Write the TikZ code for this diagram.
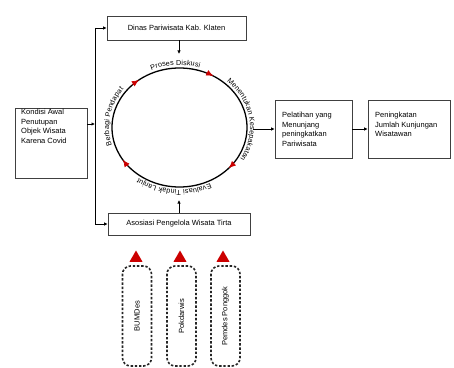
\documentclass[tikz,border=0pt]{standalone}
\usepackage{fontspec}
\setmainfont{Liberation Sans}
\usetikzlibrary{arrows.meta,decorations.text,shapes.geometric}
\begin{document}
\begin{tikzpicture}[x=1pt,y=1pt,
	box/.style={draw=black!75,line width=0.8pt,inner sep=0pt},
	txt/.style={font=\fontsize{7.5}{9.5}\selectfont,align=left,inner sep=0pt},
	arr/.style={line width=0.7pt,-{Latex[length=3.5pt,width=3.5pt]}},
	dbox/.style={draw=black!85,line width=1.6pt,dash pattern=on 2.4pt off 1.8pt,rounded corners=8pt,rotate=90,minimum width=100,minimum height=29,font=\fontsize{7.5}{9}\selectfont},
	tri/.style={regular polygon,regular polygon sides=3,fill=red!80!black,inner sep=0pt,minimum size=15},
	ring/.style={decorate,decoration={text along path,text align=center,raise=2.5pt}}]
	\useasboundingbox (0,0) rectangle (454,367);
	\node[box,minimum width=72,minimum height=70] (awal) at (51,224) {};
	\node[txt,anchor=north west] (awaltxt) at (21,258) {Kondisi Awal\\Penutupan\\Objek Wisata\\Karena Covid};
	\node[box,minimum width=139,minimum height=24,txt] (dinas) at (176.5,339) {Dinas Pariwisata Kab. Klaten};
	\node[box,minimum width=142,minimum height=22,txt] (asosiasi) at (179,143) {Asosiasi Pengelola Wisata Tirta};
	\node[box,minimum width=77,minimum height=58] (pelatihan) at (313.5,238) {};
	\node[txt,anchor=north west] (pelatihantxt) at (282,255) {Pelatihan yang\\Menunjang\\peningkatkan\\Pariwisata};
	\node[box,minimum width=82,minimum height=58] (kunjungan) at (409,238) {};
	\node[txt,anchor=north west] (kunjungantxt) at (375,255) {Peningkatan\\Jumlah Kunjungan\\Wisatawan};
	\coordinate (c) at (179.5,239.5);
	\coordinate (atas) at (95,339);
	\coordinate (bawah) at (95,143);
	\coordinate (cabang) at (95,243);
	\coordinate (masuk) at (179,313);
	\coordinate (naik) at (179,167);
	\coordinate (keluar) at (253,238);
	\draw[line width=0.7pt] (atas) -- (bawah);
	\draw[arr] (awal.east |- cabang) -- (cabang);
	\draw[arr] (atas) -- (dinas.west);
	\draw[arr] (bawah) -- (asosiasi.west);
	\draw[arr] (dinas.south -| masuk) -- (masuk);
	\draw[arr] (asosiasi.north -| naik) -- (naik);
	\draw[arr] (keluar) -- (pelatihan.west);
	\draw[arr] (pelatihan.east) -- (kunjungan.west);
	\draw[line width=1.3pt] (c) ellipse [x radius=67.5,y radius=59.5];
	\foreach \a in {127,60,-43,-147}
		\draw[red!80!black,line width=0.6pt,-{Latex[length=7pt,width=6pt]}] ([shift={(\a+7:67.5 and 59.5)}]c) arc[start angle=\a+7,end angle=\a,x radius=67.5,y radius=59.5];
	\path[ring,decoration={text={|\fontsize{7.2}{8}\selectfont|Proses Diskusi}}] ([shift={(127:68 and 60)}]c) arc[start angle=127,end angle=60,x radius=68,y radius=60];
	\path[ring,decoration={text={|\fontsize{7.2}{8}\selectfont|Menentukan Kesepakatan}}] ([shift={(60:68 and 60)}]c) arc[start angle=60,end angle=-43,x radius=68,y radius=60];
	\path[ring,decoration={text={|\fontsize{7.2}{8}\selectfont|Evaluasi Tindak Lanjut}}] ([shift={(-43:68 and 60)}]c) arc[start angle=-43,end angle=-147,x radius=68,y radius=60];
	\path[ring,decoration={text={|\fontsize{7.2}{8}\selectfont|Berbagi Pendapat}}] ([shift={(213:68 and 60)}]c) arc[start angle=213,end angle=127,x radius=68,y radius=60];
	\node[tri] (t1) at (136,109) {};
	\node[tri] (t2) at (180,109) {};
	\node[tri] (t3) at (223,109) {};
	\node[dbox] (bumdes) at (137,51) {BUMDes};
	\node[dbox] (pokdarwis) at (181.5,51) {Pokdarwis};
	\node[dbox] (pemdes) at (225.5,51) {Pemdes Ponggok};
\end{tikzpicture}
\end{document}
